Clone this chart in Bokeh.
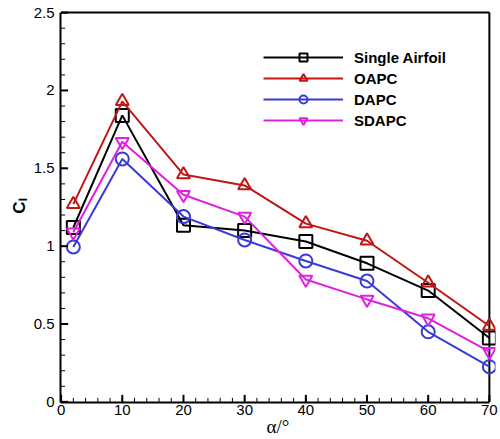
import numpy as np
from bokeh.plotting import figure
from bokeh.models import SingleIntervalTicker, Legend, LegendItem
from bokeh.embed import file_html
from bokeh.resources import INLINE

# Angle of attack (deg)
alpha = [2, 10, 20, 30, 40, 50, 60, 70]

# Lift coefficient for each configuration
cl_single = [1.12, 1.84, 1.135, 1.10, 1.03, 0.89, 0.715, 0.41]
cl_oapc = [1.27, 1.93, 1.46, 1.39, 1.145, 1.035, 0.765, 0.487]
cl_dapc = [0.995, 1.56, 1.19, 1.04, 0.905, 0.776, 0.45, 0.226]
cl_sdapc = [1.09, 1.67, 1.33, 1.19, 0.786, 0.658, 0.537, 0.322]

series_names = ["Single Airfoil", "OAPC", "DAPC", "SDAPC"]

x_ticks = [0, 10, 20, 30, 40, 50, 60, 70]
y_ticks = [0, 0.5, 1, 1.5, 2, 2.5]
y_tick_labels = ["0", "0.5", "1", "1.5", "2", "2.5"]

x_lo, x_hi = x_ticks[0], x_ticks[-1]
y_lo, y_hi = y_ticks[0], y_ticks[-1]

W, H = 500, 439
B_LEFT, B_RIGHT, B_TOP, B_BOTTOM = 60, 5, 9, 37
x_start, x_end = x_lo - 0.1, x_hi + 1.0
y_start, y_end = y_lo - 0.004, y_hi + 0.02

# frame is a touch larger than the axes so end markers are not cut off
p = figure(width=W, height=H, output_backend="svg", toolbar_location=None,
           x_range=(x_start, x_end), y_range=(y_start, y_end),
           min_border_left=B_LEFT, min_border_right=B_RIGHT,
           min_border_top=B_TOP, min_border_bottom=B_BOTTOM)
p.background_fill_color = "white"
p.border_fill_color = "white"
p.grid.visible = False
p.outline_line_color = None

p.xaxis.ticker = SingleIntervalTicker(interval=10, num_minor_ticks=5)
p.yaxis.ticker = SingleIntervalTicker(interval=0.5, num_minor_ticks=5)
p.yaxis.major_label_overrides = {v: s for v, s in zip(y_ticks, y_tick_labels)}
p.xaxis.bounds = (x_start, x_hi)
p.yaxis.bounds = (y_start, y_hi)

for ax in (p.xaxis[0], p.yaxis[0]):
    ax.axis_line_width = 2
    ax.axis_line_color = "black"
    ax.major_tick_in = 0
    ax.major_tick_out = 0
    ax.minor_tick_in = 0
    ax.minor_tick_out = 0
    ax.major_label_text_font = "Liberation Sans"
    ax.major_label_text_font_size = "15px"
    ax.major_label_text_color = "black"
p.xaxis.major_label_standoff = 2
p.yaxis.major_label_standoff = 6

p.xaxis.axis_label = "α/°"
p.xaxis.axis_label_text_font = "Liberation Serif"
p.xaxis.axis_label_text_font_style = "normal"
p.xaxis.axis_label_text_font_size = "19px"
p.xaxis.axis_label_standoff = -2
p.xaxis.axis_label_text_color = "black"

p.yaxis.axis_label = "Cₗ"
p.yaxis.axis_label_text_font = "Liberation Sans"
p.yaxis.axis_label_text_font_style = "bold"
p.yaxis.axis_label_text_font_size = "17px"
p.yaxis.axis_label_standoff = 2
p.yaxis.axis_label_text_color = "black"

# right and top edges of the box
p.segment(x0=[x_hi, x_lo], y0=[y_lo, y_hi], x1=[x_hi, x_hi], y1=[y_hi, y_hi],
          line_color="black", line_width=2)

# inward-pointing ticks: pixel lengths converted to data units, painted on
# the overlay level so nothing from the axis panels sits on top of them
dx = (x_end - x_start) / (W - B_LEFT - B_RIGHT)
dy = (y_end - y_start) / (H - B_TOP - B_BOTTOM)
x_minor = np.arange(x_lo, x_hi + 1e-9, (x_ticks[1] - x_ticks[0]) / 5)
y_minor = np.arange(y_lo, y_hi + 1e-9, (y_ticks[1] - y_ticks[0]) / 5)
for xs, ln_px, lw in ((np.array(x_ticks, float), 7, 2), (x_minor, 4, 1)):
    p.segment(x0=xs, y0=np.full(len(xs), y_lo), x1=xs,
              y1=np.full(len(xs), y_lo + ln_px * dy),
              line_color="black", line_width=lw, level="overlay")
for ys, ln_px, lw in ((np.array(y_ticks, float), 7, 2), (y_minor, 4, 1)):
    p.segment(x0=np.full(len(ys), x_lo), y0=ys,
              x1=np.full(len(ys), x_lo + ln_px * dx), y1=ys,
              line_color="black", line_width=lw, level="overlay")

styles = [
    ("black", "square", cl_single),
    ("#c01616", "triangle", cl_oapc),
    ("#3a3ad6", "circle", cl_dapc),
    ("#e020e0", "inverted_triangle", cl_sdapc),
]

items = []
for name, (color, marker, vals) in zip(series_names, styles):
    ln = p.line(alpha, vals, line_color=color, line_width=2)
    sc = p.scatter(alpha, vals, marker=marker, size=13, line_color=color,
                   line_width=2, fill_color=None)
    items.append(LegendItem(label=name, renderers=[ln, sc]))

legend = Legend(items=items, location=(203, 272), orientation="vertical",
                glyph_width=80, glyph_height=20, label_height=20,
                label_standoff=11, spacing=1, padding=0, margin=0,
                border_line_alpha=0, background_fill_alpha=0,
                label_text_font="Liberation Sans", label_text_font_style="bold",
                label_text_font_size="15px", label_text_color="black")
p.add_layout(legend, "center")

open("out.html", "w").write(file_html(p, INLINE))
